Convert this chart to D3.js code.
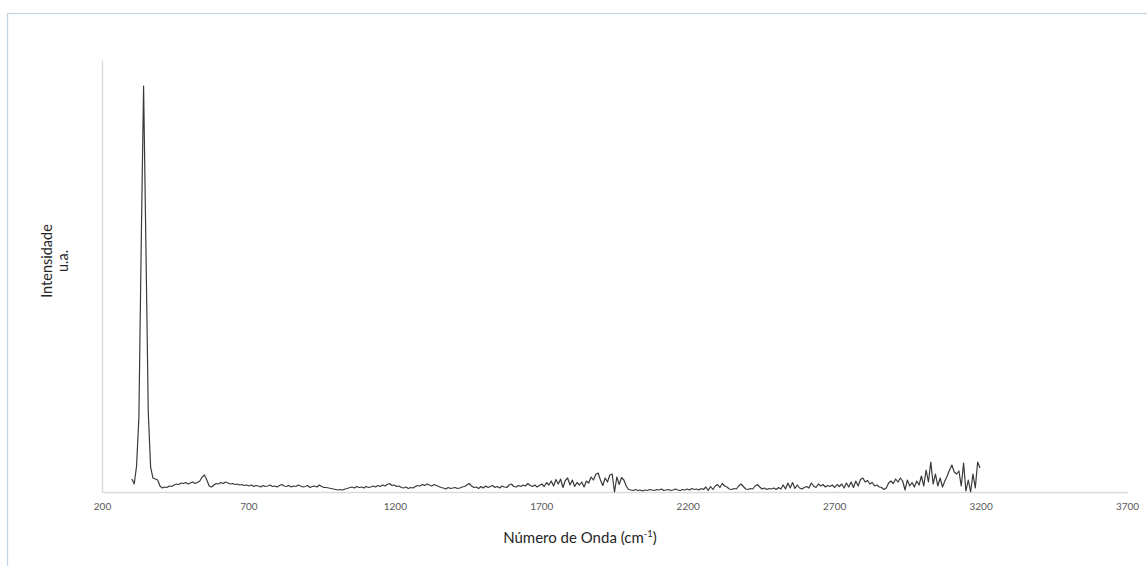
<!DOCTYPE html>
<html>
<head>
<meta charset="utf-8">
<script src="https://cdn.jsdelivr.net/npm/d3@7"></script>
<style>
  html, body { margin: 0; padding: 0; background: #ffffff; }
  svg { display: block; }
  text { font-family: Lato, "Open Sans", sans-serif; }
</style>
</head>
<body>
<svg id="chart" width="1147" height="566"></svg>
<script>
// Raman spectrum, sampled every 8 cm-1 starting at 302 cm-1
const startWavenumber = 302;
const stepWavenumber = 8;

// Intensities (u.a.), in order of increasing wavenumber
const intensity = [
  130, 80, 260, 750, 2500, 4060, 2450, 800, 250, 140, 130, 120, 60,        // 302–398
  40, 50, 45, 60, 55, 70, 80, 75, 90, 85, 95, 80,                          // 406–494
  90, 100, 85, 95, 110, 150, 170, 120, 60, 50, 70, 85, 80,                 // 502–598
  95, 85, 100, 90, 80, 85, 75, 80, 70, 75, 65, 70,                         // 606–694
  60, 70, 55, 65, 60, 50, 65, 55, 60, 70, 55, 60, 50,                      // 702–798
  65, 75, 60, 55, 65, 50, 60, 55, 70, 60, 50, 55,                          // 806–894
  65, 45, 55, 60, 50, 70, 55, 45, 45, 40, 35, 30, 25,                      // 902–998
  20, 25, 20, 30, 35, 45, 50, 40, 55, 45, 50, 40,                          // 1006–1094
  55, 45, 50, 60, 50, 65, 55, 70, 60, 75, 85, 65, 70,                      // 1102–1198
  55, 60, 45, 40, 50, 35, 45, 40, 55, 65, 60, 75,                          // 1206–1294
  65, 80, 70, 60, 75, 65, 55, 45, 40, 30, 45, 35, 40,                      // 1302–1398
  45, 35, 40, 50, 55, 70, 85, 60, 45, 50, 35, 55,                          // 1406–1494
  40, 60, 45, 55, 65, 45, 55, 40, 60, 50, 45, 70, 80,                      // 1502–1598
  55, 50, 65, 55, 70, 60, 85, 65, 55, 70, 50, 65,                          // 1606–1694
  80, 55, 95, 70, 110, 60, 125, 80, 130, 45, 115, 140, 70,                 // 1702–1798
  120, 55, 95, 70, 100, 50, 110, 90, 150, 120, 175, 190,                   // 1806–1894
  120, 65, 140, 100, 170, 180, 0, 150, 75, 145, 120, 60, 25,               // 1902–1998
  20, 15, 25, 15, 20, 10, 20, 15, 25, 20, 15, 25,                          // 2006–2094
  20, 30, 15, 20, 25, 15, 20, 30, 20, 15, 25, 20, 30,                      // 2102–2198
  20, 35, 25, 30, 20, 35, 25, 50, 15, 55, 25, 60,                          // 2206–2294
  75, 45, 85, 60, 50, 30, 25, 35, 30, 60, 80, 55, 30,                      // 2302–2398
  25, 35, 30, 60, 75, 50, 30, 40, 25, 35, 30, 40,                          // 2406–2494
  25, 45, 30, 70, 30, 90, 40, 95, 35, 70, 40, 30, 45,                      // 2502–2598
  55, 40, 90, 60, 45, 80, 60, 75, 50, 65, 55, 70,                          // 2606–2694
  45, 75, 55, 80, 40, 90, 50, 100, 45, 110, 60, 125, 140,                  // 2702–2798
  100, 115, 80, 95, 60, 70, 50, 45, 25, 40, 90, 110,                       // 2806–2894
  85, 130, 100, 140, 110, 20, 120, 60, 95, 50, 110, 70, 160,               // 2902–2998
  60, 220, 100, 300, 80, 180, 60, 140, 50, 110, 160, 220,                  // 3006–3094
  270, 200, 180, 210, 60, 290, 10, 120, 0, 180, 40, 300, 240               // 3102–3198
];

// Axis settings
const xTickValues = [200, 700, 1200, 1700, 2200, 2700, 3200, 3700];
const xDomain = [200, 3700];
const yDomain = [0, 4320];

const spectrum = intensity.map((v, i) => ({ w: startWavenumber + i * stepWavenumber, v }));

const svg = d3.select("#chart");
const W = 1147, H = 566;
const plot = { left: 102, right: 1127, top: 60, bottom: 492 };

// Chart-area frame
svg.append("rect")
  .attr("x", 7.5).attr("y", 13.5)
  .attr("width", W + 20).attr("height", H + 20)
  .attr("fill", "#ffffff")
  .attr("stroke", "#c5d5e8").attr("stroke-width", 1.3);

const x = d3.scaleLinear().domain(xDomain).range([plot.left, plot.right]);
const y = d3.scaleLinear().domain(yDomain).range([plot.bottom, plot.top]);

// X axis
const xAxis = svg.append("g")
  .attr("transform", `translate(0,${plot.bottom})`)
  .call(d3.axisBottom(x).tickValues(xTickValues).tickSize(0).tickPadding(11).tickFormat(d3.format("d")));
xAxis.select(".domain").attr("stroke", "#d9d9d9").attr("stroke-width", 1.3);
xAxis.selectAll("text")
  .attr("fill", "#595959")
  .style("font-size", "10px")
  .style("font-family", "Lato, 'Open Sans', sans-serif");

// Y axis (line only, no tick labels)
const yAxis = svg.append("g")
  .attr("transform", `translate(${plot.left},0)`)
  .call(d3.axisLeft(y).tickValues([]).tickSize(0));
yAxis.select(".domain").attr("stroke", "#d9d9d9").attr("stroke-width", 1.3);

// Spectrum line
const line = d3.line().x(d => x(d.w)).y(d => y(d.v));
svg.append("path")
  .datum(spectrum)
  .attr("fill", "none")
  .attr("stroke", "#3a3a3a")
  .attr("stroke-width", 1.2)
  .attr("stroke-linejoin", "round")
  .attr("d", line);

// Axis titles
const xTitle = svg.append("text")
  .attr("x", 580).attr("y", 543)
  .attr("text-anchor", "middle")
  .attr("fill", "#262626")
  .style("font-size", "15px");
xTitle.append("tspan").text("Número de Onda (cm");
xTitle.append("tspan").attr("dy", -6).style("font-size", "9.5px").text("-1");
xTitle.append("tspan").attr("dy", 6).text(")");

const yTitle = svg.append("g")
  .attr("transform", "translate(52,261) rotate(-90)");
yTitle.append("text")
  .attr("x", 0).attr("y", 0)
  .attr("text-anchor", "middle")
  .attr("fill", "#262626")
  .style("font-size", "14.5px")
  .text("Intensidade");
yTitle.append("text")
  .attr("x", 0).attr("y", 16)
  .attr("text-anchor", "middle")
  .attr("fill", "#262626")
  .style("font-size", "14.5px")
  .text("u.a.");
</script>
</body>
</html>
